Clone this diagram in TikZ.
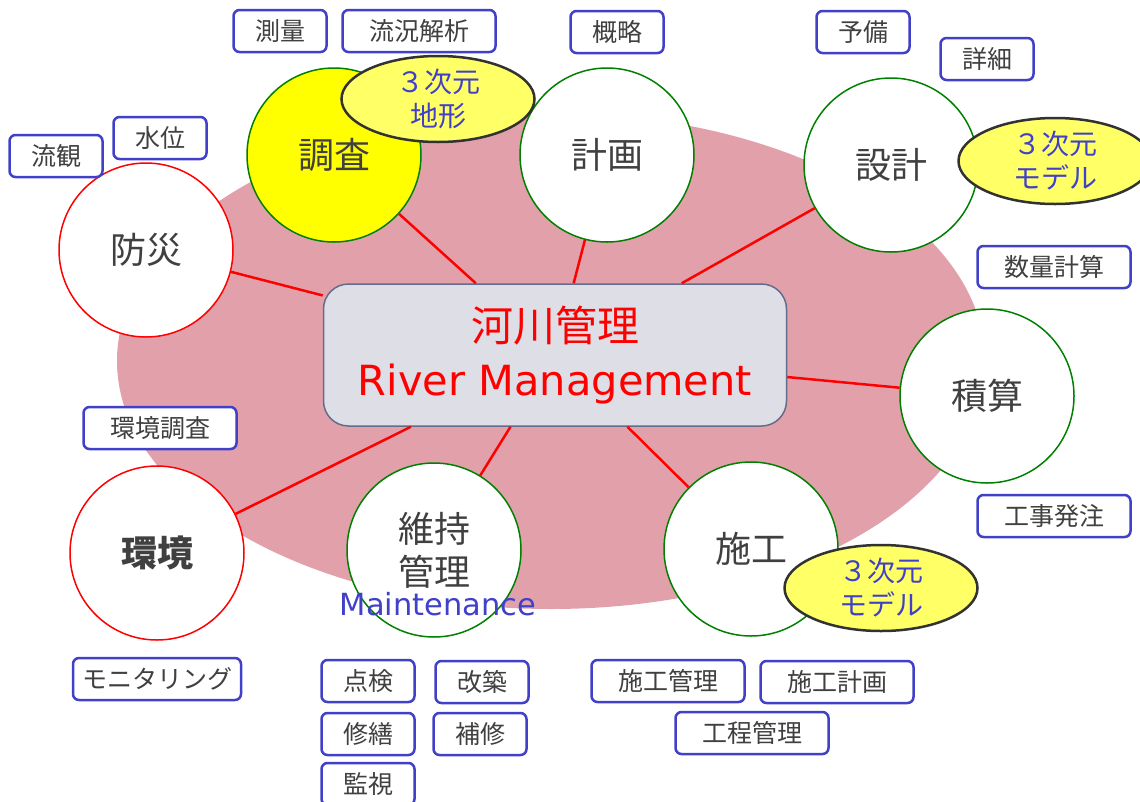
\documentclass[tikz,border=0pt]{standalone}
\usepackage{fontspec}
\setmainfont{Noto Sans CJK JP}
\newfontfamily\latinfont{DejaVu Sans}
\usetikzlibrary{shapes.geometric}
\definecolor{pinkbg}{RGB}{226,161,170}
\definecolor{tagblue}{RGB}{64,64,200}
\definecolor{txtgray}{RGB}{64,64,64}
\definecolor{ringgreen}{RGB}{0,128,0}
\definecolor{ringred}{RGB}{255,0,0}
\definecolor{ylw}{RGB}{255,255,102}
\definecolor{hubfill}{RGB}{221,222,230}
\definecolor{hubdraw}{RGB}{100,108,140}
\definecolor{edgedark}{RGB}{50,50,50}
\begin{document}
\begin{tikzpicture}[x=1pt,y=-1pt,
  topic/.style={circle, draw=ringgreen, line width=1.5pt, fill=white, minimum size=174pt, inner sep=0pt, text=txtgray, align=center, font=\fontsize{36}{43}\selectfont},
  redtopic/.style={topic, draw=ringred},
  tag/.style={draw=tagblue, line width=2.5pt, rounded corners=6pt, fill=white, minimum height=42pt, inner sep=0pt, text=txtgray, font=\fontsize{25}{28}\selectfont},
  tagtwo/.style={tag, minimum width=93pt},
  tagfour/.style={tag, minimum width=153pt},
  threed/.style={ellipse, draw=edgedark, line width=2.5pt, fill=ylw, minimum width=193pt, minimum height=86pt, inner sep=0pt, text=tagblue, align=center, font=\fontsize{28}{34}\selectfont},
  link/.style={draw=ringred, line width=2.5pt}
]
\useasboundingbox (0,0) rectangle (1140,801);
\fill[pinkbg] (551,361) ellipse [x radius=434pt, y radius=248pt];

% hub
\node[draw=hubdraw, line width=1.5pt, fill=hubfill, rounded corners=25pt, minimum width=463pt, minimum height=142pt, inner sep=0pt] (hub) at (555,355) {};
\node[text=ringred, inner sep=0pt, font=\fontsize{42}{50}\selectfont] (hubjp) at (555,326) {河川管理};
\node[text=ringred, inner sep=0pt, font=\latinfont\fontsize{41.5}{50}\selectfont] (huben) at (555,384) {River Management};

% topics
\node[topic, fill={rgb,255:red,255;green,255;blue,0}] (chosa) at (334,155) {調査};
\node[topic] (keikaku) at (607,155) {計画};
\node[topic] (sekkei) at (891,165) {設計};
\node[redtopic] (bosai) at (146,250) {防災};
\node[topic] (sekisan) at (987,396) {積算};
\node[redtopic, font=\fontsize{36}{43}\selectfont\bfseries] (kankyo) at (157,553) {\textbf{環境}};
\node[topic] (iji) at (434,550) {維持\\管理};
\node[topic] (seko) at (751,549) {施工};

% connectors
\foreach \t in {chosa,keikaku,sekkei,bosai,sekisan,kankyo,iji,seko}
  \draw[link] (hub) -- (\t);

% maintenance label
\node[text=tagblue, inner sep=0pt, font=\latinfont\fontsize{30.5}{34}\selectfont] (maint) at (438,604) {Maintenance};

% 3D ellipses
\node[threed] (e1) at (438,99) {３次元\\地形};
\node[threed] (e2) at (1055,161) {３次元\\モデル};
\node[threed] (e3) at (881,588) {３次元\\モデル};

% tags
\node[tagtwo] (sokuryo) at (280,31) {測量};
\node[tagfour] (ryukyo) at (419,31) {流況解析};
\node[tagtwo] (gairyaku) at (617,32) {概略};
\node[tagtwo] (yobi) at (863,32) {予備};
\node[tagtwo] (shosai) at (987,59) {詳細};
\node[tagfour] (suryo) at (1054,267) {数量計算};
\node[tagfour] (koji) at (1054,516) {工事発注};
\node[tagfour] (sekokanri) at (668,681) {施工管理};
\node[tagfour] (sekokeikaku) at (837,682) {施工計画};
\node[tagfour] (koteikanri) at (752,733) {工程管理};
\node[tagtwo] (tenken) at (368,681) {点検};
\node[tagtwo] (kaichiku) at (482,682) {改築};
\node[tagtwo] (shuzen) at (368,734) {修繕};
\node[tagtwo] (hoshu) at (480,734) {補修};
\node[tagtwo] (kanshi) at (368,784) {監視};
\node[tag, minimum width=168pt] (monitor) at (157,679) {モニタリング};
\node[tagfour] (kankyochosa) at (160,428) {環境調査};
\node[tagtwo] (ryukan) at (56,156) {流観};
\node[tagtwo] (suii) at (160,138) {水位};
\end{tikzpicture}
\end{document}
